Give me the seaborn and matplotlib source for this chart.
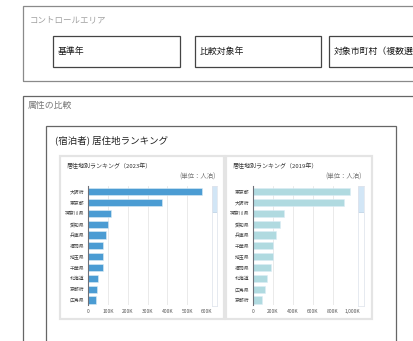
import matplotlib
matplotlib.use("Agg")
import matplotlib.pyplot as plt
from matplotlib.patches import Rectangle
from matplotlib.ticker import FuncFormatter, FixedLocator
import seaborn as sns
import pandas as pd

sns.set_theme(style="white")
plt.rcParams["font.family"] = ["Noto Sans CJK JP", "DejaVu Sans"]

W, H = 414, 341

# Residence ranking, guest nights
pref_2023 = ["大阪府", "東京都", "神奈川県", "愛知県", "兵庫県", "福岡県",
             "埼玉県", "千葉県", "北海道", "京都府", "広島県"]
nights_2023 = [575000, 372000, 117000, 102000, 87000, 75000,
               75000, 72000, 47000, 42000, 37000]

pref_2019 = ["東京都", "大阪府", "神奈川県", "愛知県", "兵庫県", "千葉県",
             "埼玉県", "福岡県", "北海道", "広島県", "京都府"]
nights_2019 = [973000, 913000, 313000, 277000, 237000, 207000,
               203000, 187000, 140000, 120000, 97000]

filter_labels = ["基準年", "比較対象年", "対象市町村（複数選択）"]


def rect(x0, y0, x1, y1):
    """Pixel box (top-left origin) to figure fraction rect."""
    return [x0 / W, 1 - y1 / H, (x1 - x0) / W, (y1 - y0) / H]


def box(fig, x0, y0, x1, y1, ec, lw=1.0, fc="none", z=-1):
    fig.patches.append(Rectangle((x0 / W, 1 - y1 / H), (x1 - x0) / W, (y1 - y0) / H,
                                 transform=fig.transFigure, fill=fc != "none",
                                 facecolor=fc, edgecolor=ec, linewidth=lw, zorder=z))


def text(fig, x, y, s, **kw):
    return fig.text(x / W, 1 - y / H, s, va="center", **kw)


fig = plt.figure(figsize=(W / 100, H / 100), dpi=100)
fig.patch.set_facecolor("white")

# Control area
box(fig, 23.5, 6, 430, 81, "#8a8a8a", 0.9)
text(fig, 30, 20, "コントロールエリア", fontsize=6.1, color="#a0a0a0")
for (x0, x1), lab in zip([(53.5, 180.5), (195.5, 321.5), (329.5, 440)], filter_labels):
    box(fig, x0, 36.5, x1, 67, "#444444", 0.9)
    text(fig, x0 + 4, 51.5, lab, fontsize=6.4, color="#1a1a1a")

# Comparison section
box(fig, 23.5, 96, 430, 360, "#666666", 0.9)
text(fig, 27.5, 105, "属性の比較", fontsize=6.4, color="#777777")
box(fig, 46, 126, 396, 360, "#666666", 0.9)
text(fig, 55, 140, "(宿泊者) 居住地ランキング", fontsize=6.8, color="#222222")


def ranking_panel(px0, px1, ax_x0, ax_x1, sb_x0, names, vals, year, color, xmax, step):
    box(fig, px0, 156, px1, 319, "#e4e4e4", 1.6, fc="white", z=-1)
    text(fig, px0 + 6, 166.5, f"居住地別ランキング（{year}年）", fontsize=4.3, color="#333333")
    fig.text((sb_x0 + 4) / W, 1 - 177 / H, "(単位：人泊)", ha="right", va="center",
             fontsize=4.6, color="#777777")

    ax = fig.add_axes(rect(ax_x0, 186.3, ax_x1, 305.4))
    df = pd.DataFrame({"pref": names, "nights": vals})
    sns.barplot(data=df, y="pref", x="nights", orient="h", color=color,
                saturation=1, width=0.66, edgecolor="#dcecf6", linewidth=0.4, ax=ax)
    ax.set_xlim(0, xmax)
    ax.set_ylim(len(names) - 0.5, -0.5)
    ax.set_xlabel("")
    ax.set_ylabel("")
    ax.set_facecolor("none")
    ax.xaxis.set_major_locator(FixedLocator(list(range(0, xmax + 1, step))))
    ax.xaxis.set_major_formatter(FuncFormatter(
        lambda v, p: "0" if v == 0 else f"{int(v / 1000):,}K"))
    ax.grid(axis="x", color="#e6e6e6", linewidth=0.6)
    ax.set_axisbelow(True)
    for s in ["top", "right", "bottom"]:
        ax.spines[s].set_visible(False)
    ax.spines["left"].set_color("#6e7079")
    ax.spines["left"].set_linewidth(0.8)
    ax.tick_params(axis="x", length=0, labelsize=3.6, labelcolor="#555555", pad=2.5)
    ax.tick_params(axis="y", length=0, labelsize=3.5, labelcolor="#444444", pad=2.5)
    ax.set_yticks(range(len(names)), minor=False)
    ax.set_yticks([i - 0.5 for i in range(len(names) + 1)], minor=True)
    ax.tick_params(axis="y", which="minor", length=1.8, width=0.6, color="#6e7079")

    # Zoom slider on the right
    sb = fig.add_axes(rect(sb_x0, 186, sb_x0 + 6, 306))
    sb.set_xticks([])
    sb.set_yticks([])
    for s in sb.spines.values():
        s.set_color("#e2e6ee")
        s.set_linewidth(0.6)
    sb.set_xlim(0, 1)
    sb.set_ylim(0, 1)
    sb.add_patch(Rectangle((0.08, 0.78), 0.84, 0.22, facecolor="#d2e6f6",
                           edgecolor="#b9cfe3", linewidth=0.5))
    return ax


ranking_panel(60.5, 224, 88.3, 207, 211.5, pref_2023, nights_2023, 2023,
              "#4b9cd3", 600000, 100000)
ranking_panel(226.5, 372, 252.7, 352.7, 358, pref_2019, nights_2019, 2019,
              "#b0dae0", 1000000, 200000)

fig.savefig("out.png", dpi=100)
